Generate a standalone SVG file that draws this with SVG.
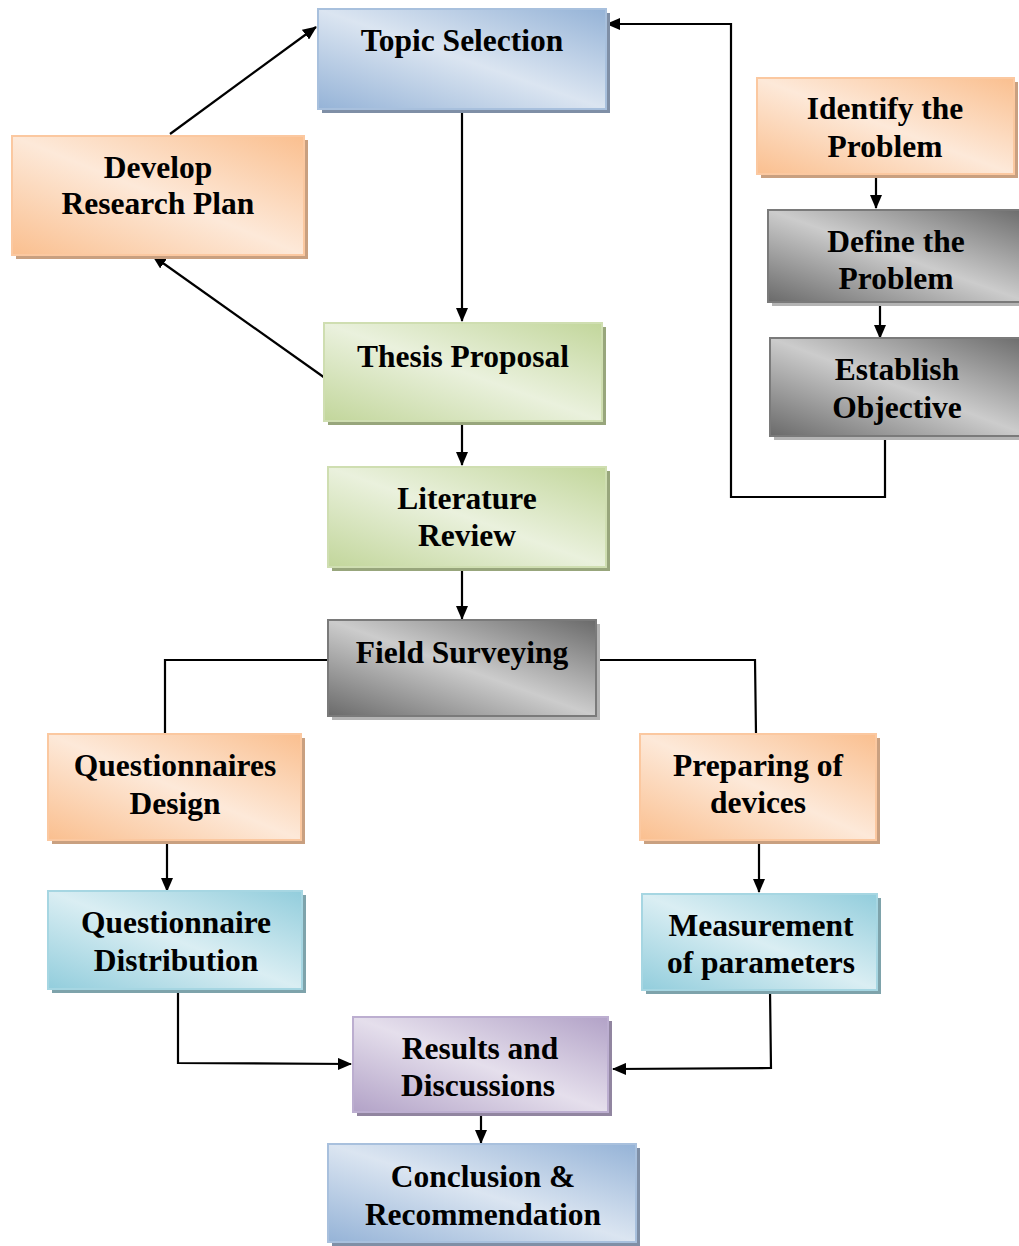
<svg xmlns="http://www.w3.org/2000/svg" width="1019" height="1246" viewBox="0 0 1019 1246">
<defs>
<linearGradient id="gBlue" x1="0" y1="1" x2="1" y2="0"><stop offset="0" stop-color="#95b3d7"/><stop offset="0.5" stop-color="#dbe5f1"/><stop offset="1" stop-color="#95b3d7"/></linearGradient>
<linearGradient id="gOrange" x1="0" y1="1" x2="1" y2="0"><stop offset="0" stop-color="#fabf8f"/><stop offset="0.5" stop-color="#fde9d9"/><stop offset="1" stop-color="#fabf8f"/></linearGradient>
<linearGradient id="gGreen" x1="0" y1="1" x2="1" y2="0"><stop offset="0" stop-color="#c2d69b"/><stop offset="0.5" stop-color="#eaf1dd"/><stop offset="1" stop-color="#c2d69b"/></linearGradient>
<linearGradient id="gGray" x1="0" y1="1" x2="1" y2="0"><stop offset="0" stop-color="#6a6a6a"/><stop offset="0.5" stop-color="#cccccc"/><stop offset="1" stop-color="#6a6a6a"/></linearGradient>
<linearGradient id="gTeal" x1="0" y1="1" x2="1" y2="0"><stop offset="0" stop-color="#92cddc"/><stop offset="0.5" stop-color="#daeef3"/><stop offset="1" stop-color="#92cddc"/></linearGradient>
<linearGradient id="gPurple" x1="0" y1="1" x2="1" y2="0"><stop offset="0" stop-color="#b2a2c7"/><stop offset="0.5" stop-color="#e5dfec"/><stop offset="1" stop-color="#b2a2c7"/></linearGradient>
<marker id="arr" viewBox="0 0 14 12" refX="13" refY="6" markerWidth="14" markerHeight="12" markerUnits="userSpaceOnUse" orient="auto"><path d="M0,0 L14,6 L0,12 Z" fill="#000"/></marker>
</defs>
<style>
text{font-family:"Liberation Serif","Times New Roman",serif;font-weight:bold;font-size:31.5px;fill:#000;text-anchor:middle}
.blue{fill:url(#gBlue);stroke:#a8c0dd;stroke-width:2}
.orange{fill:url(#gOrange);stroke:#fbc8a0;stroke-width:2}
.green{fill:url(#gGreen);stroke:#cfdeb1;stroke-width:2}
.gray{fill:url(#gGray);stroke:#7a7a7a;stroke-width:2}
.teal{fill:url(#gTeal);stroke:#a6d6e2;stroke-width:2}
.purple{fill:url(#gPurple);stroke:#bcaed0;stroke-width:2}
.sb{fill:#7f8fa6}.so{fill:#c9a080}.sg{fill:#98a67c}.sy{fill:#b4b4b4}.st{fill:#7ea3ab}.sp{fill:#9185a0}
.c{fill:none;stroke:#000;stroke-width:2.2}
.ca{fill:none;stroke:#000;stroke-width:2.2;marker-end:url(#arr)}
</style>
<g id="connectors">
<line class="ca" x1="170" y1="134" x2="316" y2="27"/>
<line class="ca" x1="325" y1="378" x2="153" y2="256"/>
<line class="ca" x1="462" y1="110" x2="462" y2="321"/>
<line class="ca" x1="462" y1="422" x2="462" y2="465"/>
<line class="ca" x1="462" y1="568" x2="462" y2="619"/>
<polyline class="c" points="328,660 165,660 165,734"/>
<polyline class="c" points="596,660 755,660 756,734"/>
<line class="ca" x1="167" y1="842" x2="167" y2="891"/>
<line class="ca" x1="759" y1="842" x2="759" y2="892"/>
<polyline class="ca" points="178,990 178,1063 351,1064"/>
<polyline class="ca" points="770,990 771,1068 613,1069"/>
<line class="ca" x1="481" y1="1112" x2="481" y2="1143"/>
<line class="ca" x1="876" y1="174" x2="876" y2="208"/>
<line class="ca" x1="880" y1="302" x2="880" y2="338"/>
<polyline class="ca" points="885,436 885,497 731,497 731,24 607,24"/>
</g>
<g id="topic"><rect class="sb" x="322" y="13" width="288" height="100"/><rect class="blue" x="318" y="9" width="288" height="100"/><text x="462" y="51">Topic Selection</text></g>
<g id="develop"><rect class="so" x="16" y="140" width="292" height="119"/><rect class="orange" x="12" y="136" width="292" height="119"/><text x="158" y="178">Develop</text><text x="158" y="214">Research Plan</text></g>
<g id="thesis"><rect class="sg" x="328" y="327" width="278" height="98"/><rect class="green" x="324" y="323" width="278" height="98"/><text x="463" y="367">Thesis Proposal</text></g>
<g id="literature"><rect class="sg" x="332" y="471" width="278" height="100"/><rect class="green" x="328" y="467" width="278" height="100"/><text x="467" y="509">Literature</text><text x="467" y="546">Review</text></g>
<g id="field"><rect class="sy" x="332" y="624" width="268" height="96"/><rect class="gray" x="328" y="620" width="268" height="96"/><text x="462" y="663">Field Surveying</text></g>
<g id="identify"><rect class="so" x="761" y="82" width="257" height="96"/><rect class="orange" x="757" y="78" width="257" height="96"/><text x="885" y="119">Identify the</text><text x="885" y="157">Problem</text></g>
<g id="define"><rect class="sy" x="772" y="214" width="260" height="92"/><rect class="gray" x="768" y="210" width="260" height="92"/><text x="896" y="252">Define the</text><text x="896" y="289">Problem</text></g>
<g id="establish"><rect class="sy" x="774" y="342" width="260" height="98"/><rect class="gray" x="770" y="338" width="260" height="98"/><text x="897" y="380">Establish</text><text x="897" y="418">Objective</text></g>
<g id="qdesign"><rect class="so" x="52" y="738" width="253" height="106"/><rect class="orange" x="48" y="734" width="253" height="106"/><text x="175" y="776">Questionnaires</text><text x="175" y="814">Design</text></g>
<g id="preparing"><rect class="so" x="644" y="738" width="236" height="106"/><rect class="orange" x="640" y="734" width="236" height="106"/><text x="758" y="776">Preparing of</text><text x="758" y="813">devices</text></g>
<g id="qdist"><rect class="st" x="52" y="895" width="254" height="98"/><rect class="teal" x="48" y="891" width="254" height="98"/><text x="176" y="933">Questionnaire</text><text x="176" y="971">Distribution</text></g>
<g id="measurement"><rect class="st" x="646" y="898" width="235" height="96"/><rect class="teal" x="642" y="894" width="235" height="96"/><text x="761" y="936">Measurement</text><text x="761" y="973">of parameters</text></g>
<g id="results"><rect class="sp" x="357" y="1021" width="255" height="95"/><rect class="purple" x="353" y="1017" width="255" height="95"/><text x="480" y="1059">Results and</text><text x="478" y="1096">Discussions</text></g>
<g id="conclusion"><rect class="sb" x="332" y="1148" width="308" height="98"/><rect class="blue" x="328" y="1144" width="308" height="98"/><text x="483" y="1187">Conclusion &amp;</text><text x="483" y="1225">Recommendation</text></g>
</svg>
